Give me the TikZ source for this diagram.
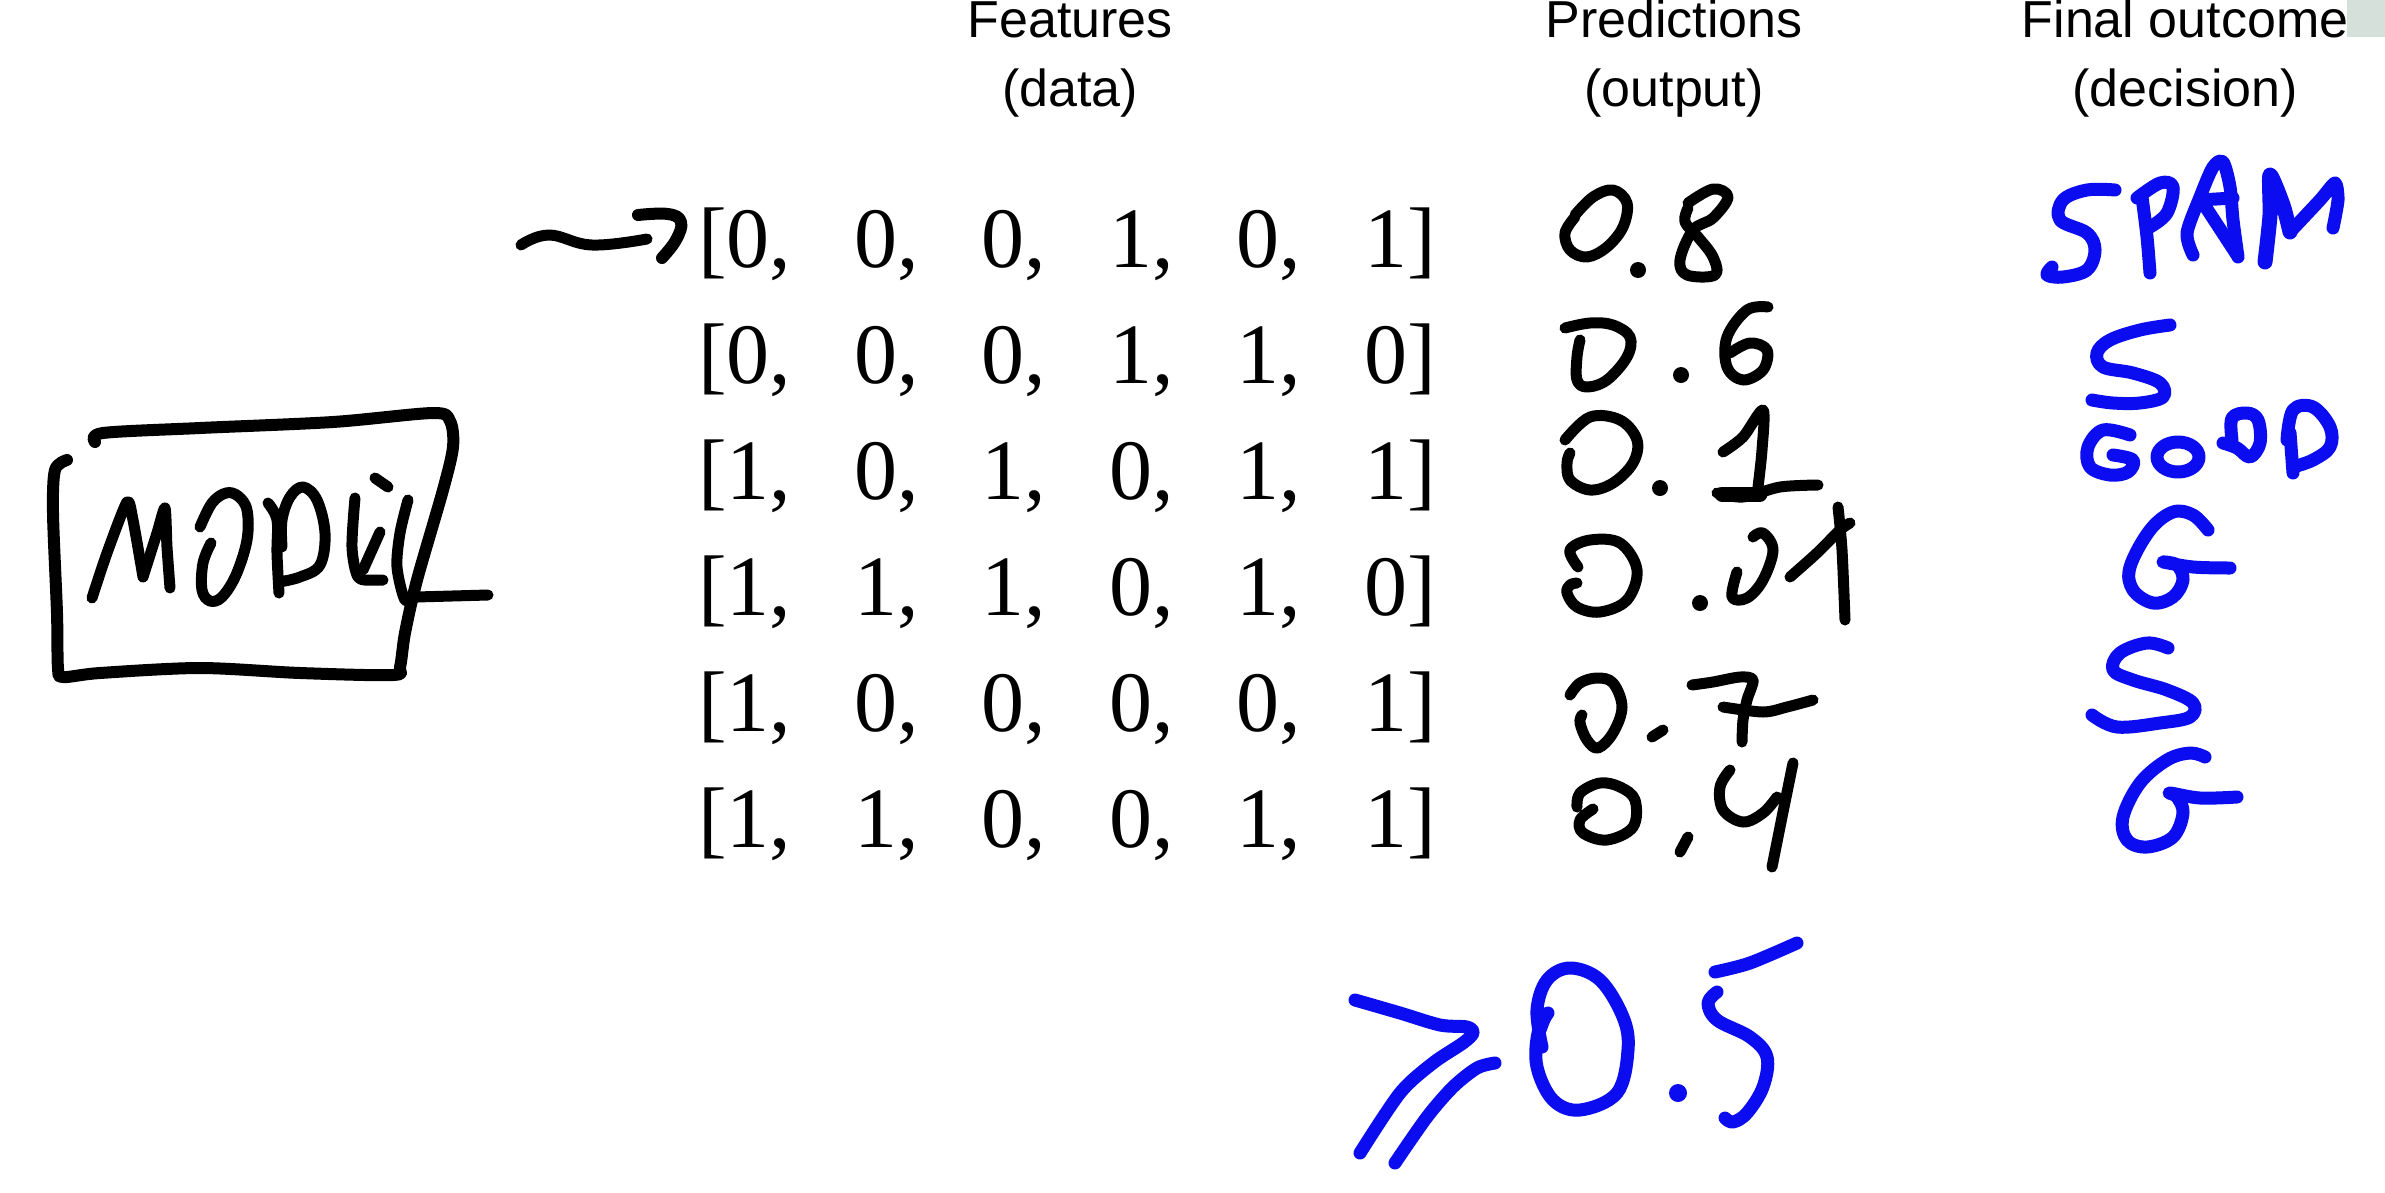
\documentclass[tikz,border=0pt]{standalone}
\usepackage{fontspec}
\setmainfont{Liberation Serif}
\newfontfamily\hdrfont{Liberation Sans}
\definecolor{penblue}{RGB}{12,12,240}
\definecolor{cornergreen}{RGB}{213,224,219}
\newcommand{\vrow}[6]{[\makebox[127.5pt][l]{#1,}\makebox[127.5pt][l]{#2,}\makebox[127.5pt][l]{#3,}\makebox[127.5pt][l]{#4,}\makebox[127.5pt][l]{#5,}#6]}
\begin{document}
\begin{tikzpicture}[x=1pt,y=-1pt,line cap=round,line join=round]
\tikzset{
  hand/.style={draw=black, line width=11pt, line cap=round, line join=round},
  boxhand/.style={draw=black, line width=12pt, line cap=round, line join=round},
  bluehand/.style={draw=penblue, line width=13pt, line cap=round, line join=round},
  hdr/.style={font=\hdrfont\fontsize{52}{62}\selectfont, inner sep=0pt, anchor=base},
  vec/.style={font=\fontsize{86}{100}\selectfont, inner sep=0pt, anchor=base west},
}
\fill[white] (0,0) rectangle (2385,1192);
\useasboundingbox (0,0) rectangle (2385,1192);

% headers
\node[hdr] (h1a) at (1070,37) {Features};
\node[hdr] (h1b) at (1070,106) {(data)};
\node[hdr] (h2a) at (1674,37) {Predictions};
\node[hdr] (h2b) at (1674,106) {(output)};
\node[hdr] (h3a) at (2185,37) {Final outcome};
\node[hdr] (h3b) at (2185,106) {(decision)};
\fill[cornergreen] (2347,0) rectangle (2385,37);

% feature vectors
\node[vec] (r1) at (698,267) {\vrow{0}{0}{0}{1}{0}{1}};
\node[vec] (r2) at (698,383) {\vrow{0}{0}{0}{1}{1}{0}};
\node[vec] (r3) at (698,499) {\vrow{1}{0}{1}{0}{1}{1}};
\node[vec] (r4) at (698,615) {\vrow{1}{1}{1}{0}{1}{0}};
\node[vec] (r5) at (698,731) {\vrow{1}{0}{0}{0}{0}{1}};
\node[vec] (r6) at (698,847) {\vrow{1}{1}{0}{0}{1}{1}};

% hand-drawn arrow to first row
\coordinate (arrowtail) at (521,245);
\draw[hand] plot[smooth,tension=0.7] coordinates {(arrowtail) (549,235) (592,245) (647,239)};
\draw[hand, line width=12pt] plot[smooth,tension=0.7] coordinates {(638,215) (668,214) (681,222) (676,240) (662,258)};

% MODEL box
\draw[boxhand] plot[smooth,tension=0.5] coordinates {(95,442) (103,433) (200,428) (333,422) (433,413) (450,421) (453,447) (443,490) (417,580) (405,633) (400,667) (393,675) (300,673) (200,668) (100,673) (63,677) (58,668) (57,613) (53,513) (55,470) (67,460)};
% M
\draw[hand] plot[smooth,tension=0.4] coordinates {(92,598) (107,553) (127,502) (133,520) (143,577)};
\draw[hand] plot[smooth,tension=0.4] coordinates {(143,577) (157,533) (165,508) (167,547) (170,588)};
% O
\draw[hand] plot[smooth,tension=0.6] coordinates {(211,543) (203,563) (202,590) (210,601) (222,597) (236,575) (247,540) (247,510) (238,496) (226,493) (212,503) (200,527)};
% D
\draw[hand] plot[smooth,tension=0.6] coordinates {(268,503) (277,520) (277,553) (279,593)};
\draw[hand] plot[smooth,tension=0.6] coordinates {(279,582) (300,577) (320,565) (325,533) (317,500) (303,487) (290,497) (282,520) (282,547)};
% E with dot
\draw[hand] plot[smooth,tension=0.5] coordinates {(355,498) (352,547) (358,577) (373,580) (383,580)};
\draw[hand] (363,570) -- (380,532);
\draw[hand] (375,478) -- (388,487);
% L
\draw[hand] plot[smooth,tension=0.5] coordinates {(408,500) (400,533) (397,567) (405,600) (416,597)};
\draw[hand] (416,597) -- (488,595);

% predictions 0.8
\draw[hand] plot[smooth,tension=0.6] coordinates {(1575,215) (1593,197) (1613,190) (1627,203) (1623,227) (1607,247) (1587,257) (1570,250) (1565,233) (1575,217)};
\fill (1638,270) circle (8pt);
\draw[hand] plot[smooth,tension=0.6] coordinates {(1688,203) (1713,189) (1728,197) (1713,218) (1693,230) (1680,260) (1687,275) (1715,275) (1713,257) (1698,237) (1685,222) (1688,208)};
% 0.6
\draw[hand] plot[smooth,tension=0.6] coordinates {(1565,328) (1590,323) (1613,325) (1630,337) (1627,357) (1607,380) (1587,387) (1577,380) (1577,357) (1580,340)};
\fill (1681,375) circle (8pt);
\draw[hand] plot[smooth,tension=0.6] coordinates {(1768,307) (1747,310) (1727,337) (1727,367) (1743,380) (1763,370) (1767,350) (1750,343) (1730,353)};
% 0.1
\draw[hand] plot[smooth,tension=0.6] coordinates {(1565,440) (1590,417) (1620,420) (1637,440) (1633,463) (1613,483) (1590,490) (1570,480) (1567,463) (1570,453)};
\fill (1660,488) circle (8pt);
\draw[hand] plot[smooth,tension=0.5] coordinates {(1723,452) (1743,437) (1763,410) (1762,450) (1758,487)};
\draw[hand, line width=15pt] (1722,494) -- (1760,494);
\draw[hand] plot[smooth,tension=0.5] coordinates {(1717,493) (1743,497) (1780,487) (1818,485)};
% 0.01
\draw[hand] plot[smooth,tension=0.6] coordinates {(1578,567) (1570,550) (1590,540) (1620,543) (1637,570) (1627,600) (1600,612) (1577,607) (1567,593) (1570,585) (1577,583)};
\fill (1700,603) circle (8pt);
\draw[hand] plot[smooth,tension=0.6] coordinates {(1737,572) (1732,597) (1747,598) (1763,580) (1773,550) (1763,533) (1753,537)};
\draw[hand] plot[smooth,tension=0.5] coordinates {(1790,577) (1817,553) (1840,530) (1850,523)};
\draw[hand] plot[smooth,tension=0.5] coordinates {(1838,507) (1842,550) (1845,620)};
% 0.7
\draw[hand] plot[smooth,tension=0.6] coordinates {(1570,695) (1580,683) (1597,678) (1613,683) (1622,707) (1613,733) (1598,748) (1587,740) (1580,723) (1582,715)};
\draw[hand] (1652,737) -- (1663,730);
\draw[hand] plot[smooth,tension=0.5] coordinates {(1692,685) (1713,682) (1740,677) (1753,680) (1747,700) (1743,720) (1742,742)};
\draw[hand] plot[smooth,tension=0.5] coordinates {(1723,707) (1763,712) (1787,707) (1813,700)};
% 0.4
\draw[hand] plot[smooth,tension=0.6] coordinates {(1593,809) (1580,820) (1583,833) (1607,840) (1633,827) (1635,800) (1620,787) (1600,783) (1580,793) (1577,807)};
\draw[hand] (1688,837) -- (1680,852);
\draw[hand] plot[smooth,tension=0.6] coordinates {(1730,770) (1720,787) (1723,810) (1743,822) (1763,813) (1777,797)};
\draw[hand] plot[smooth,tension=0.5] coordinates {(1793,763) (1782,817) (1772,867)};

% final outcomes (blue)
% SPAM
\draw[bluehand] plot[smooth,tension=0.6] coordinates {(2115,190) (2087,190) (2063,200) (2060,220) (2087,233) (2095,250) (2087,270) (2063,277) (2047,275) (2052,267)};
\draw[bluehand] plot[smooth,tension=0.5] coordinates {(2142,197) (2147,237) (2150,273)};
\draw[bluehand] plot[smooth,tension=0.6] coordinates {(2137,198) (2160,183) (2173,187) (2167,213) (2150,227)};
\draw[bluehand] plot[smooth,tension=0.5] coordinates {(2193,255) (2187,233) (2200,197) (2213,167) (2223,162) (2230,187) (2233,220) (2238,257)};
\draw[bluehand] (2200,200) -- (2233,198);
\draw[bluehand] (2203,203) -- (2237,255);
\draw[bluehand, line width=15pt] plot[smooth,tension=0.4] coordinates {(2265,262) (2270,215) (2270,175) (2283,205) (2290,232)};
\draw[bluehand] plot[smooth,tension=0.4] coordinates {(2290,232) (2320,200) (2335,183) (2338,200) (2333,228)};
% S
\draw[bluehand] plot[smooth,tension=0.6] coordinates {(2170,325) (2140,330) (2110,340) (2097,353) (2103,367) (2133,373) (2160,383) (2163,397) (2140,403) (2113,403) (2092,400)};
% GOOD
\draw[bluehand] plot[smooth,tension=0.6] coordinates {(2130,435) (2103,430) (2088,447) (2090,467) (2110,475) (2128,472) (2133,460) (2113,455)};
\draw[bluehand] (2178,457) ellipse (21pt and 15pt);
\draw[bluehand] plot[smooth,tension=0.6] coordinates {(2223,443) (2237,448) (2250,457) (2260,443) (2258,420) (2247,413) (2232,418) (2232,440)};
\draw[bluehand] (2290,433) -- (2293,473);
\draw[bluehand] plot[smooth,tension=0.6] coordinates {(2287,440) (2293,410) (2313,407) (2330,427) (2330,447) (2313,460) (2293,467)};
% G
\draw[bluehand] plot[smooth,tension=0.6] coordinates {(2208,530) (2193,515) (2173,512) (2150,530) (2130,567) (2133,590) (2153,603) (2173,597) (2183,580) (2177,565) (2163,562) (2193,567) (2230,568)};
% S
\draw[bluehand] plot[smooth,tension=0.6] coordinates {(2168,648) (2147,643) (2120,653) (2113,670) (2133,680) (2167,690) (2193,703) (2190,717) (2160,723) (2117,727) (2092,715)};
% G
\draw[bluehand] plot[smooth,tension=0.6] coordinates {(2205,757) (2190,753) (2167,760) (2140,783) (2123,817) (2127,840) (2147,847) (2173,837) (2183,813) (2177,797) (2170,793) (2200,798) (2237,797)};

% threshold >= 0.5
\draw[bluehand] plot[smooth,tension=0.5] coordinates {(1355,1000) (1400,1013) (1440,1025) (1467,1027) (1473,1033) (1463,1043) (1433,1063) (1400,1093) (1360,1153)};
\draw[bluehand] plot[smooth,tension=0.5] coordinates {(1495,1063) (1477,1068) (1453,1087) (1427,1117) (1395,1163)};
\draw[bluehand] plot[smooth,tension=0.6] coordinates {(1542,1047) (1537,1010) (1547,980) (1570,968) (1600,980) (1623,1017) (1628,1050) (1617,1093) (1580,1110) (1553,1100) (1537,1067) (1538,1033) (1548,1013)};
\draw[bluehand] (1546,1014) -- (1540,1030);
\fill[penblue] (1678,1093) circle (9pt);
\draw[bluehand] plot[smooth,tension=0.5] coordinates {(1715,972) (1750,963) (1797,943)};
\draw[bluehand] plot[smooth,tension=0.6] coordinates {(1717,992) (1708,1003) (1717,1020) (1750,1037) (1767,1057) (1763,1087) (1747,1113) (1733,1122) (1725,1118)};
\end{tikzpicture}
\end{document}
